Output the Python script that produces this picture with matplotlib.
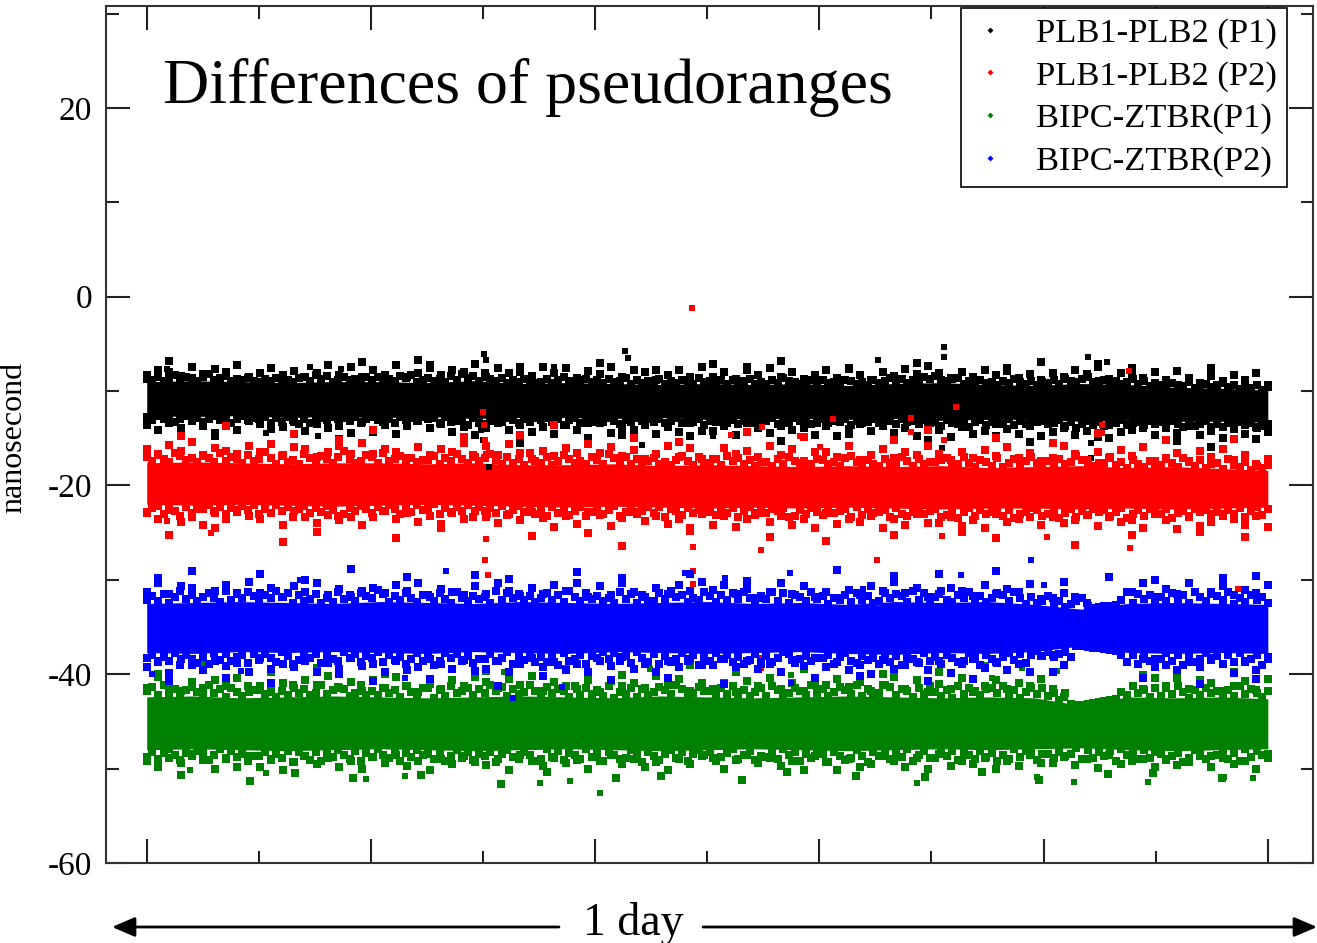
import numpy as np
import matplotlib.pyplot as plt
from matplotlib.lines import Line2D
from matplotlib.ticker import MultipleLocator

plt.rcParams['font.family'] = ['Liberation Serif', 'DejaVu Serif']
plt.rcParams['axes.unicode_minus'] = False

# x = time of day (fraction of 1 day), y = nanosecond
# dense core of each band, read every hour (25 knots)
knots = np.linspace(0, 1, 25)

black_hi = [-9.0, -8.9, -9.0, -9.1, -9.0, -9.0, -9.1, -8.9, -9.2, -9.1, -9.2, -9.3, -9.2,
            -9.3, -9.2, -9.4, -9.2, -9.1, -9.3, -9.4, -9.2, -9.3, -9.6, -9.7, -9.9]
black_lo = [-12.6, -12.7, -12.6, -12.8, -12.7, -12.8, -12.7, -12.9, -12.8, -12.8, -12.9, -12.8, -13.0,
            -12.9, -12.9, -13.0, -12.9, -13.1, -13.0, -13.0, -13.2, -13.1, -13.2, -13.2, -13.3]
red_hi = [-17.6, -17.5, -17.6, -17.7, -17.6, -17.6, -17.7, -17.6, -17.8, -17.8, -17.7, -17.9, -17.8,
          -17.9, -18.0, -17.9, -18.0, -17.9, -18.1, -18.0, -17.9, -18.1, -18.0, -18.2, -18.4]
red_lo = [-22.0, -22.1, -22.0, -22.1, -22.2, -22.1, -22.0, -22.1, -22.2, -22.3, -22.2, -22.3, -22.4,
          -22.3, -22.4, -22.3, -22.4, -22.5, -22.4, -22.4, -22.5, -22.4, -22.5, -22.4, -22.3]
blue_hi = [-32.5, -32.4, -32.3, -32.4, -32.5, -32.3, -32.4, -32.5, -32.3, -32.4, -32.5, -32.4, -32.3,
           -32.5, -32.4, -32.6, -32.3, -32.4, -32.3, -32.6, -33.1, -32.5, -32.4, -32.5, -32.6]
blue_lo = [-37.7, -37.8, -37.6, -37.7, -37.6, -37.7, -37.8, -37.6, -37.7, -37.8, -37.6, -37.7, -37.8,
           -37.7, -37.6, -37.8, -37.9, -37.7, -37.8, -37.6, -37.0, -37.7, -37.8, -37.7, -37.8]
green_hi = [-42.4, -42.3, -42.5, -42.4, -42.3, -42.4, -42.5, -42.4, -42.3, -42.4, -42.5, -42.3, -42.4,
            -42.5, -42.4, -42.3, -42.4, -42.5, -42.4, -42.5, -43.3, -42.4, -42.5, -42.4, -42.6]
green_lo = [-48.0, -47.9, -48.0, -48.1, -48.0, -47.9, -48.0, -48.1, -48.0, -47.9, -48.0, -48.1, -48.0,
            -47.9, -48.0, -48.1, -48.0, -47.9, -48.0, -47.9, -47.8, -48.0, -48.1, -48.0, -47.9]

# ragged edges: one char per epoch, distance beyond the core edge in steps ('.' = none)
# inner layer (200 epochs), middle layer (100), outer layer (100)
black_up_in = ("2130241320" "3512402131" "0213120341" "5240131203" "1302143502"
               "3120415230" "6213021320" "1302410231" "2031240312" "1402132041"
               "2130312402" "0314210231" "3120431203" "1241302143" "5213402131"
               "2031421302" "1304213512" "3120241302" "1032140231" "2413021302")
black_lo_in = ("1302142031" "4203152031" "2041302514" "3120213041" "0231402130"
               "2140321503" "4213024130" "2031520413" "1302413021" "3142031204"
               "1203142031" "2041302143" "0312041320" "3124021302" "1402315204"
               "2130413021" "3204152031" "4120321302" "1302413204" "2413021431")
black_up_mid = ("3542635472" "4635247362" "5372463547" "2645374625" "4736524637"
                "3526473524" "6374253647" "4253647352" "5364725436" "3742536472")
black_lo_mid = ("4635247362" "3542635472" "6374253647" "4253647352" "2645374625"
                "5372463547" "3742536472" "4736524637" "5364725436" "3526473524")
black_up_out = ("..7.....6." ".........7" "....86...." "...6......" "7....5...."
                "7..6..8..." "..6.....7." "......5..8" "....7..6.." "....7...6.")
black_lo_out = ("...6..7..." "....5..8.." "..6......." "...9.....7" "..6.....6."
                "......8..." "..5......7" ".....6..8." ".....6...." ".7..9...6.")

red_up_in = ("3142053120" "4205132041" "2630412053" "1420362014" "3051240312"
             "2403152041" "3520413062" "1402531204" "2053140312" "4120352041"
             "1305241302" "2041532014" "3120452031" "0421530412" "2340152043"
             "1502413520" "3041253102" "2513042031" "1420531402" "3052140213")
red_lo_in = ("4215036142" "2031524130" "5240316204" "1302541302" "4130251403"
             "2052413061" "3140520314" "2503142053" "1420531420" "3051240312"
             "2413052041" "3120541302" "4032150413" "2150342031" "0431520413"
             "2041532014" "3152041302" "1420531402" "3052140213" "2413052041")
red_up_mid = ("5364725436" "4736524637" "3542635472" "6374253647" "4635247362"
              "2645374625" "5372463547" "4253647352" "3742536472" "3526473524")
red_lo_mid = ("3526473524" "5372463547" "4253647352" "4635247362" "3742536472"
              "6374253647" "2645374625" "5364725436" "3542635472" "4736524637")
red_up_out = ("...8...b.." "...9...7.." "a.......8." "...9..c..." "...8...7.."
              "...a....9." "......8..b" ".....9...." "7...a....." "8.....9...")
red_lo_out = ("..9...7..." "..b..8...." "..a...7..." "....9....8" "..c.....7."
              ".....9...." "a.....8..." "..7..9...." "..b....8.." "...7...9..")

blue_up_in = ("2415036241" "3520614253" "1426350412" "5031624153" "2640315204"
              "4152063142" "3061524130" "2514063152" "4130625041" "1526340215"
              "3041526304" "2615043162" "4032516240" "1524306152" "3610425130"
              "2541630412" "5130246100" "0002605241" "3152406315" "4260315241")
blue_lo_in = ("3152406135" "2604153261" "4135026413" "1624503152" "3051426304"
              "2640315264" "4153062415" "2516043162" "3041526035" "1625304162"
              "4031526415" "2530164253" "3162045132" "5041623504" "2613540261"
              "3520416203" "1432500000" "0002516043" "3041625304" "2615043162")
blue_up_mid = ("4736524637" "3526473524" "5364725436" "3742536472" "6374253647"
               "4635247362" "4253647352" "3542635472" "3542...472" "5372463547")
blue_lo_mid = ("5372463547" "2645374625" "4736524637" "6374253647" "3526473524"
               "4253647352" "5364725436" "3742536472" "26......25" "4635247362")
blue_up_out = (".9..b....." "a...8...c." "...9.....a" "..8.....b." "..9.....a."
               "...8......" ".c....9..." "a....b...." ".9...a...8" ".....9..a.")
blue_lo_out = ("..a....9.." ".b.....8.." "a....9...." ".c...8...." ".a....9..."
               ".b.......9" "...8.....a" "...9......" "8.......9." "...b....9.")

green_up_in = ("3516240352" "1624053164" "4250316241" "2613540261" "3152406315"
               "5041623514" "2635041263" "1524306152" "4160325041" "2531640253"
               "3152604135" "1640253162" "4025316041" "2651430526" "3140625314"
               "5261403526" "2415000000" "0003162405" "1526304152" "3041625314")
green_lo_in = ("4152036241" "2630514263" "3152406135" "1624035162" "4035162403"
               "2516304152" "3162045136" "5041623504" "2613540261" "3520416203"
               "1642053164" "4250316241" "2613540361" "3152406315" "5041623514"
               "2635041263" "3524306152" "4160325041" "2531640253" "3152604135")
green_up_mid = ("3742536472" "4253647352" "6374253647" "5364725436" "2645374625"
                "3526473524" "4635247362" "5372463547" "42......37" "4736524637")
green_lo_mid = ("4635247362" "6374253647" "3526473524" "5372463547" "4253647352"
                "3742536472" "4736524637" "2645374625" "5364725436" "3542635472")
green_up_out = (".8...b...." ".9...a...." ".8....c..." "9......a.." "..8.....b."
                "..9.....a." ".....8...." "9...b....." "a.......8." "......9...")
green_lo_out = ("...9.....b" "...8....a." "....9....." ".c...8...." ".a...9...." "..b...8..."
                "..9.....a." "...8....b." "....9...8." "....a....")

# isolated points far from the bands
black_out_t = [0.018, 0.146, 0.173, 0.301, 0.303, 0.363, 0.427, 0.429, 0.652, 0.711, 0.711, 0.840,
               0.857, 0.106, 0.153, 0.298, 0.300, 0.303, 0.305, 0.442, 0.505, 0.709, 0.842, 0.842]
black_out_y = [-7.7, -7.5, -7.7, -6.1, -6.7, -7.5, -5.8, -6.5, -6.7, -5.3, -6.4, -6.4,
               -6.9, -14.4, -14.8, -14.1, -15.2, -16.8, -18.0, -15.7, -14.8, -16.0, -15.5, -17.1]
red_out_t = [0.486, 0.300, 0.301, 0.302, 0.303, 0.304, 0.303, 0.302, 0.304, 0.487, 0.487, 0.487,
             0.548, 0.548, 0.548, 0.651, 0.651, 0.722, 0.876, 0.973, 0.549, 0.521, 0.612, 0.682,
             0.583, 0.601, 0.711, 0.852, 0.852, 0.709, 0.803, 0.877, 0.057, 0.018, 0.682]
red_out_y = [-1.2, -12.2, -13.6, -15.2, -16.7, -23.1, -25.7, -27.9, -29.5, -26.5, -29.1, -30.4,
             -26.8, -38.3, -39.3, -27.9, -32.4, -11.7, -7.9, -31.0, -13.8, -14.6, -13.0, -12.8,
             -14.8, -15.9, -15.2, -13.6, -14.4, -25.4, -25.5, -26.6, -25.0, -23.8, -14.3]
blue_out_t = [0.005, 0.267, 0.084, 0.230, 0.574, 0.480, 0.516, 0.327, 0.370, 0.575, 0.789, 0.726,
              0.800, 0.639, 0.137, 0.549]
blue_out_y = [-40.0, -29.1, -39.7, -40.4, -29.3, -29.3, -29.8, -42.5, -41.4, -40.9, -27.9, -29.5,
              -30.5, -31.0, -30.0, -39.0]
green_out_t = [0.351, 0.404, 0.378, 0.196, 0.687, 0.794, 0.827, 0.893, 0.961, 0.987, 0.319, 0.449,
               0.575, 0.754, 0.781, 0.812, 0.039, 0.106, 0.230]
green_out_y = [-51.5, -52.6, -51.3, -51.1, -51.5, -50.9, -51.4, -51.4, -50.9, -51.0, -39.8, -39.4,
               -40.1, -40.4, -39.3, -39.7, -50.1, -50.5, -50.8]

labels = ['PLB1-PLB2 (P1)', 'PLB1-PLB2 (P2)', 'BIPC-ZTBR(P1)', 'BIPC-ZTBR(P2)']
colors = ['#000000', '#ff0000', '#008000', '#0000ff']

# step sizes (ns) for inner / middle / outer layers
steps = [(0.15, 0.25, 0.3), (0.2, 0.3, 0.35), (0.2, 0.3, 0.3), (0.2, 0.3, 0.3)]

series = [
    (black_hi, black_lo, [black_up_in, black_up_mid, black_up_out],
     [black_lo_in, black_lo_mid, black_lo_out], black_out_t, black_out_y),
    (red_hi, red_lo, [red_up_in, red_up_mid, red_up_out],
     [red_lo_in, red_lo_mid, red_lo_out], red_out_t, red_out_y),
    (green_hi, green_lo, [green_up_in, green_up_mid, green_up_out],
     [green_lo_in, green_lo_mid, green_lo_out], green_out_t, green_out_y),
    (blue_hi, blue_lo, [blue_up_in, blue_up_mid, blue_up_out],
     [blue_lo_in, blue_lo_mid, blue_lo_out], blue_out_t, blue_out_y),
]


def edge_points(code, edge, sign, step):
    t = np.linspace(0, 1, len(code))
    base = np.interp(t, knots, edge)
    tt = [ti for ti, c in zip(t, code) if c != '.']
    yy = [b + sign * int(c, 36) * step for b, c in zip(base, code) if c != '.']
    return tt, yy


fig = plt.figure(figsize=(13.17, 9.43), dpi=100)
ax = fig.add_axes([106 / 1317, 80 / 943, (1313 - 106) / 1317, (863 - 6) / 943])

for (hi, lo, ups, los, ot, oy), col, st in zip(series, colors, steps):
    ax.fill_between(knots, lo, hi, color=col, lw=0)
    for code, s in zip(ups, st):
        tt, yy = edge_points(code, hi, +1, s)
        ax.plot(tt, yy, ls='none', marker='s', ms=5.2, mew=0, color=col)
    for code, s in zip(los, st):
        tt, yy = edge_points(code, lo, -1, s)
        ax.plot(tt, yy, ls='none', marker='s', ms=5.2, mew=0, color=col)
    ax.plot(ot, oy, ls='none', marker='s', ms=4.8, mew=0, color=col)

ax.set_xlim(-0.0363, 1.0403)
ax.set_ylim(-60, 30.8)
ax.xaxis.set_major_locator(MultipleLocator(0.2))
ax.xaxis.set_minor_locator(MultipleLocator(0.1))
ax.yaxis.set_major_locator(MultipleLocator(20))
ax.yaxis.set_minor_locator(MultipleLocator(10))
ax.tick_params(which='both', direction='in', top=True, right=True, width=1.5, color='#222222',
               labelbottom=False, labelsize=24, pad=10)
ax.tick_params(which='major', length=17)
ax.tick_params(which='minor', length=9)
for sp in ax.spines.values():
    sp.set_linewidth(1.5)
    sp.set_color('#333333')

ax.set_ylabel('nanosecond', fontsize=23)
ax.yaxis.set_label_coords(-0.0646, 0.497)

handles = [Line2D([], [], ls='none', marker='D', ms=3, mew=0, color=c) for c in colors]
leg = ax.legend(handles, labels, loc='upper right', bbox_to_anchor=(1287 / 1317, 1 - 8 / 943),
                bbox_transform=fig.transFigure, borderaxespad=0, fancybox=False, framealpha=1,
                edgecolor='black', fontsize=24.8, handlelength=1.1, handletextpad=0.8,
                labelspacing=0.33, borderpad=0.28)
leg.get_frame().set_linewidth(1.2)

fig.text(163 / 1317, 1 - 103 / 943, 'Differences of pseudoranges', fontsize=46, va='baseline')
fig.text(633 / 1317, 1 - 935 / 943, '1 day', fontsize=33, ha='center', va='baseline')
ay = 1 - 927 / 943
arrow = dict(arrowstyle='-|>,head_length=0.7,head_width=0.3', lw=2, color='black',
             mutation_scale=20, shrinkA=0, shrinkB=0)
ax.annotate('', xy=(112 / 1317, ay), xytext=(559 / 1317, ay), xycoords='figure fraction',
            textcoords='figure fraction', arrowprops=arrow, annotation_clip=False)
ax.annotate('', xy=(1317 / 1317, ay), xytext=(703 / 1317, ay), xycoords='figure fraction',
            textcoords='figure fraction', arrowprops=arrow, annotation_clip=False)

fig.savefig('out.png', dpi=100)
